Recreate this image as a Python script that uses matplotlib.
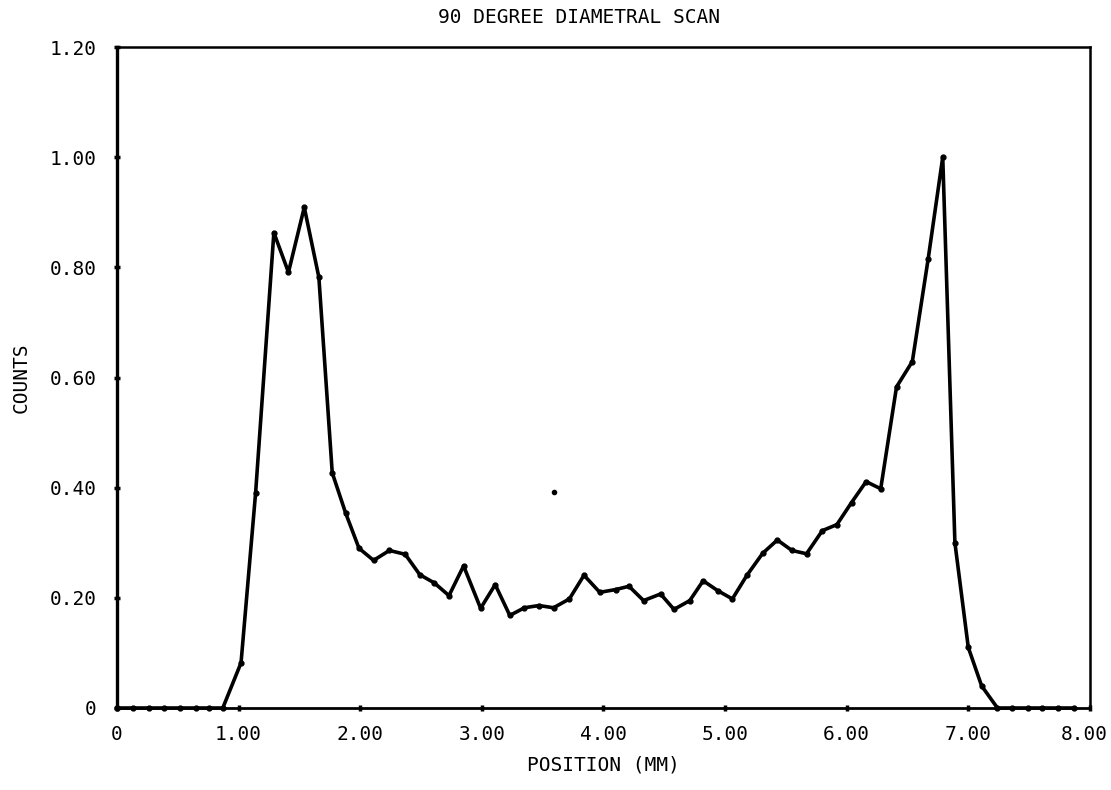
import numpy as np
import matplotlib.pyplot as plt
from matplotlib.transforms import ScaledTranslation

# scan position (mm) and normalised counts
position = [0.00, 0.13, 0.26, 0.39, 0.52, 0.65, 0.76, 0.87, 1.02, 1.14,
            1.29, 1.41, 1.54, 1.66, 1.77, 1.88, 1.99, 2.11, 2.24, 2.37,
            2.49, 2.61, 2.73, 2.85, 2.99, 3.11, 3.23, 3.35, 3.47, 3.59,
            3.72, 3.84, 3.97, 4.10, 4.21, 4.33, 4.47, 4.58, 4.71, 4.82,
            4.94, 5.06, 5.18, 5.31, 5.43, 5.55, 5.67, 5.80, 5.92, 6.04,
            6.16, 6.28, 6.41, 6.54, 6.67, 6.79, 6.89, 7.00, 7.11, 7.24,
            7.36, 7.49, 7.61, 7.74, 7.87]
counts = [0.0, 0.0, 0.0, 0.0, 0.0, 0.0, 0.0, 0.0, 0.082, 0.391,
          0.863, 0.791, 0.909, 0.782, 0.427, 0.354, 0.290, 0.268, 0.286, 0.279,
          0.242, 0.227, 0.204, 0.258, 0.181, 0.224, 0.168, 0.182, 0.186, 0.182,
          0.198, 0.241, 0.210, 0.215, 0.221, 0.195, 0.207, 0.179, 0.195, 0.231,
          0.213, 0.198, 0.241, 0.281, 0.305, 0.286, 0.280, 0.322, 0.333, 0.373,
          0.411, 0.398, 0.583, 0.629, 0.815, 1.000, 0.300, 0.110, 0.040, 0.0,
          0.0, 0.0, 0.0, 0.0, 0.0]

# stray plotter dot
stray_x = [3.59]
stray_y = [0.393]

xticks = [0, 1, 2, 3, 4, 5, 6, 7, 8]
xticklabels = ["0", "1.00", "2.00", "3.00", "4.00", "5.00", "6.00", "7.00", "8.00"]
yticks = [0, 0.2, 0.4, 0.6, 0.8, 1.0, 1.2]
yticklabels = ["0", "0.20", "0.40", "0.60", "0.80", "1.00", "1.20"]

plt.rcParams['font.family'] = 'DejaVu Sans Mono'

fig = plt.figure(figsize=(11.11, 7.90), dpi=100)
ax = fig.add_axes([0.1053, 0.1038, 0.8757, 0.8367])

ax.plot(position, counts, color='black', lw=2.6, marker='o', ms=3.5,
        clip_on=False, zorder=3)
ax.plot(stray_x, stray_y, 'o', color='black', ms=3)

ax.set_xlim(0, 8)
ax.set_ylim(0, 1.2)
ax.set_xticks(xticks)
ax.set_xticklabels(xticklabels)
ax.set_yticks(yticks)
ax.set_yticklabels(yticklabels)
ax.tick_params(direction='inout', length=5, width=2.5, labelsize=14, colors='black')
ax.tick_params(axis='x', pad=10)
ax.tick_params(axis='y', pad=12)

# nudge the last x label left so it stays on the page, as in the original
last = ax.get_xticklabels()[-1]
last.set_transform(last.get_transform() + ScaledTranslation(-0.06, 0, fig.dpi_scale_trans))

ax.spines['left'].set_linewidth(2.4)
ax.spines['bottom'].set_linewidth(2.0)
ax.spines['top'].set_linewidth(1.8)
ax.spines['right'].set_linewidth(1.8)

ax.set_xlabel("POSITION (MM)", fontsize=14, labelpad=8)
ax.set_ylabel("COUNTS", fontsize=14, labelpad=14)
ax.set_title("90 DEGREE DIAMETRAL SCAN", fontsize=14, pad=17, x=0.475)

plt.savefig("out.png", dpi=100)
